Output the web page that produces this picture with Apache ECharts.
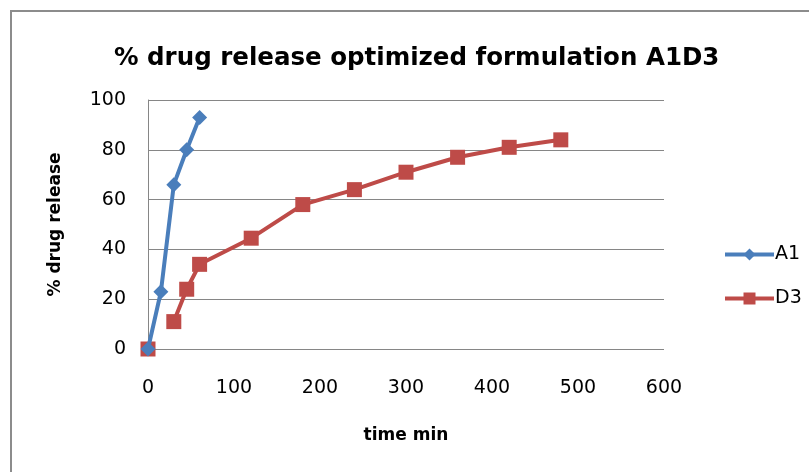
<!DOCTYPE html>
<html>
<head>
<meta charset="utf-8">
<script src="https://cdn.jsdelivr.net/npm/echarts@6/dist/echarts.min.js"></script>
<style>html,body{margin:0;padding:0;background:#fff}#c{width:809px;height:472px}</style>
</head>
<body>
<div id="c"></div>
<script>
const titleText = '% drug release optimized formulation A1D3';
const xTitle = 'time min';
const yTitle = '% drug release';
const a1Time = [0, 15, 30, 45, 60];
const a1Release = [0, 23, 66, 80, 93];
const d3Time = [0, 15, 30, 45, 60, 120, 180, 240, 300, 360, 420, 480];
const d3Release = [0, null, 11, 24, 34, 44.5, 58, 64, 71, 77, 81, 84];

const font = '"DejaVu Sans", "Noto Sans", sans-serif';
const chart = echarts.init(document.getElementById('c'), null, {renderer: 'canvas'});
chart.setOption({
  animation: false,
  backgroundColor: '#fff',
  graphic: [{type: 'rect', shape: {x: 11, y: 11, width: 830, height: 500}, style: {fill: 'none', stroke: '#8c8c8c', lineWidth: 2}, silent: true}],
  title: {text: titleText, left: 114, top: 46, padding: 0, textStyle: {fontFamily: font, fontSize: 24.5, fontWeight: 'bold', color: '#000'}},
  grid: {left: 148, right: 145, top: 100, bottom: 123, containLabel: false},
  legend: {
    orient: 'vertical', left: 718, top: 240, itemWidth: 49, itemHeight: 15, itemGap: 25,
    lineStyle: {width: 4},
    textStyle: {fontFamily: font, fontSize: 19, color: '#000', padding: [0, 0, 0, -4]},
    data: ['A1', 'D3']
  },
  xAxis: {
    type: 'value', min: 0, max: 600, interval: 100,
    name: xTitle, nameLocation: 'middle', nameGap: 78,
    nameTextStyle: {fontFamily: font, fontSize: 17, fontWeight: 'bold', color: '#000'},
    axisLine: {show: false}, axisTick: {show: false}, splitLine: {show: false},
    axisLabel: {fontFamily: font, fontSize: 19, color: '#000', margin: 30}
  },
  yAxis: {
    type: 'value', min: 0, max: 100, interval: 20,
    name: yTitle, nameLocation: 'middle', nameGap: 84,
    nameTextStyle: {fontFamily: font, fontSize: 17, fontWeight: 'bold', color: '#000'},
    axisLine: {show: true, lineStyle: {color: '#868686', width: 1}}, axisTick: {show: false},
    splitLine: {show: true, lineStyle: {color: '#868686', width: 1}},
    axisLabel: {fontFamily: font, fontSize: 19, color: '#000', margin: 22}
  },
  series: [
    {name: 'A1', type: 'line', data: a1Time.map((t, i) => [t, a1Release[i]]),
     symbol: 'diamond', symbolSize: 15, lineStyle: {color: '#4a7ebb', width: 4},
     itemStyle: {color: '#4a7ebb'}, z: 3},
    {name: 'D3', type: 'line', data: d3Time.map((t, i) => [t, d3Release[i]]), connectNulls: false,
     symbol: 'rect', symbolSize: 15, lineStyle: {color: '#be4b48', width: 4},
     itemStyle: {color: '#be4b48'}, z: 2}
  ]
});
</script>
</body>
</html>
